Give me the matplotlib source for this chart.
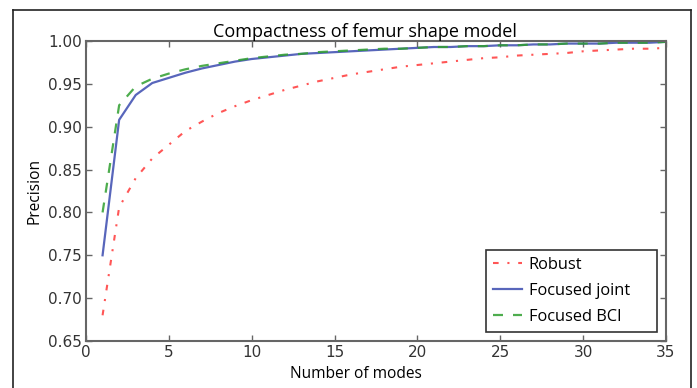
import matplotlib
matplotlib.use("Agg")
import matplotlib.pyplot as plt
from matplotlib.lines import Line2D

modes = list(range(1, 36))
robust = [0.680, 0.806, 0.840, 0.863, 0.879, 0.895, 0.906, 0.916, 0.924, 0.931,
          0.937, 0.943, 0.948, 0.953, 0.957, 0.961, 0.964, 0.967, 0.970, 0.972,
          0.974, 0.976, 0.978, 0.980, 0.981, 0.983, 0.984, 0.985, 0.986, 0.988,
          0.989, 0.990, 0.991, 0.991, 0.992]
focused_joint = [0.750, 0.908, 0.937, 0.951, 0.957, 0.963, 0.968, 0.972, 0.976, 0.979,
                 0.981, 0.983, 0.985, 0.986, 0.987, 0.988, 0.989, 0.990, 0.991, 0.992,
                 0.993, 0.993, 0.994, 0.994, 0.995, 0.995, 0.996, 0.996, 0.997, 0.997,
                 0.997, 0.998, 0.998, 0.998, 0.999]
focused_bci = [0.800, 0.925, 0.947, 0.956, 0.962, 0.967, 0.971, 0.974, 0.977, 0.980,
               0.982, 0.984, 0.985, 0.987, 0.988, 0.989, 0.990, 0.991, 0.991, 0.992,
               0.993, 0.993, 0.994, 0.994, 0.995, 0.995, 0.996, 0.996, 0.997, 0.997,
               0.997, 0.998, 0.998, 0.998, 0.999]
series_labels = ["Robust", "Focused joint", "Focused BCI"]
xticks = [0, 5, 10, 15, 20, 25, 30, 35]
yticks = [0.65, 0.70, 0.75, 0.80, 0.85, 0.90, 0.95, 1.00]

hfont = ["Open Sans", "DejaVu Sans"]

fig = plt.figure(figsize=(6.97, 3.88), dpi=100)
ax = fig.add_axes([86/697, 1-341/388, (666-86)/697, (341-41)/388])

ax.plot(modes, robust, linestyle=(0, (2.7, 4.2, 1, 4.2)), color="#ff4444", alpha=0.9,
        lw=1.5, label=series_labels[0])
ax.plot(modes, focused_joint, linestyle="-", color="#3b4bb0", alpha=0.85, lw=1.6,
        label=series_labels[1])
ax.plot(modes, focused_bci, linestyle=(0, (4.5, 4.5)), color="#2f9f2f", alpha=0.85, lw=1.6,
        label=series_labels[2])

ax.set_xlim(0, 35)
ax.set_ylim(0.65, 1.00)
ax.set_xticks(xticks)
ax.set_yticks(yticks)
ax.set_yticklabels([f"{v:.2f}" for v in yticks])
ax.tick_params(direction="in", top=True, right=True, length=4, width=1,
               color="#666666", labelsize=11, labelcolor="#333333", pad=3)
for s in ax.spines.values():
    s.set_color("#666666")
    s.set_linewidth(1.5)

ax.set_title("Compactness of femur shape model", fontfamily=hfont, fontsize=13, pad=3,
             x=0.481)
ax.set_xlabel("Number of modes", fontfamily=hfont, fontsize=11.2, labelpad=2)
ax.xaxis.set_label_coords(0.466, -0.085)
ax.set_ylabel("Precision", fontfamily=hfont, fontsize=11.2, labelpad=4)

leg = ax.legend(loc="lower left", prop={"family": hfont, "size": 11.8}, fancybox=False,
                framealpha=1, edgecolor="#333333", borderpad=0.45, handlelength=1.75,
                handletextpad=0.4, labelspacing=0.6, borderaxespad=0, mode="expand",
                bbox_to_anchor=((486-86)/580, 0.03, 171/580, 0.27))
leg.get_frame().set_linewidth(1.2)

# figure frame (left, top, right)
fw, fh = 697, 388
x0, x1, y0 = 13.5/fw, 690.5/fw, 1 - 9.5/fh
fig.add_artist(Line2D([x0, x0], [0, y0], transform=fig.transFigure, color="#222222", lw=1.2))
fig.add_artist(Line2D([x0, x1], [y0, y0], transform=fig.transFigure, color="#222222", lw=1.2))
fig.add_artist(Line2D([x1, x1], [0, y0], transform=fig.transFigure, color="#222222", lw=1.2))

fig.savefig("out.png", dpi=100)
